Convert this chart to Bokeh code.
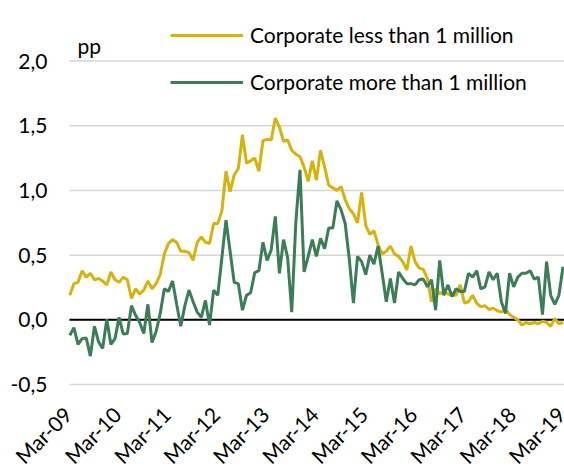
from bokeh.plotting import figure
from bokeh.models import Range1d, Label, Legend, LegendItem
from bokeh.core.properties import value
from bokeh.embed import file_html
from bokeh.resources import INLINE

# ---- data (monthly, Mar-09 .. Mar-19) ----
months = list(range(121))
x_tick_pos = [0, 12, 24, 36, 48, 60, 72, 84, 96, 108, 120]
x_tick_labels = ["Mar-09", "Mar-10", "Mar-11", "Mar-12", "Mar-13", "Mar-14",
                 "Mar-15", "Mar-16", "Mar-17", "Mar-18", "Mar-19"]
y_tick_pos = [-0.5, 0.0, 0.5, 1.0, 1.5, 2.0]
y_tick_labels = ["-0,5", "0,0", "0,5", "1,0", "1,5", "2,0"]

less_1m = [
    0.19, 0.28, 0.29, 0.38, 0.33, 0.36, 0.31, 0.32, 0.30, 0.27,
    0.37, 0.31, 0.29, 0.33, 0.31, 0.165, 0.24, 0.20, 0.23, 0.30,
    0.24, 0.28, 0.35, 0.51, 0.59, 0.62, 0.60, 0.53, 0.53, 0.52,
    0.46, 0.60, 0.64, 0.60, 0.59, 0.745, 0.745, 0.84, 1.15, 0.99,
    1.12, 1.17, 1.43, 1.21, 1.23, 1.25, 1.15, 1.385, 1.395, 1.39,
    1.56, 1.49, 1.38, 1.39, 1.31, 1.28, 1.26, 1.18, 1.07, 1.23,
    1.08, 1.31, 1.18, 1.04, 1.02, 1.00, 1.03, 0.93, 0.86, 0.82,
    0.75, 0.985, 0.73, 0.66, 0.69, 0.58, 0.51, 0.53, 0.57, 0.51,
    0.49, 0.45, 0.385, 0.57, 0.45, 0.40, 0.39, 0.32, 0.14, 0.24,
    0.20, 0.22, 0.20, 0.19, 0.19, 0.27, 0.13, 0.14, 0.19, 0.13,
    0.10, 0.11, 0.08, 0.09, 0.07, 0.06, 0.08, 0.04, 0.02, 0.00,
    -0.04, -0.02, -0.03, -0.02, -0.03, -0.01, -0.02, -0.05, 0.01, -0.03,
    -0.02,
]

more_1m = [
    -0.12, -0.06, -0.19, -0.145, -0.14, -0.28, -0.05, -0.17, -0.22, 0.005,
    -0.19, -0.145, 0.02, -0.11, -0.105, 0.11, 0.035, -0.02, -0.105, 0.12,
    -0.175, -0.09, 0.05, 0.24, 0.22, 0.30, 0.12, -0.05, 0.11, 0.23,
    0.14, 0.06, 0.02, 0.15, -0.04, 0.23, 0.19, 0.48, 0.77, 0.53,
    0.29, 0.28, 0.075, 0.19, 0.21, 0.365, 0.38, 0.60, 0.46, 0.54,
    0.80, 0.36, 0.62, 0.48, 0.06, 0.76, 1.16, 0.37, 0.49, 0.62,
    0.49, 0.63, 0.55, 0.71, 0.71, 0.92, 0.85, 0.745, 0.47, 0.13,
    0.49, 0.45, 0.35, 0.50, 0.43, 0.57, 0.36, 0.14, 0.32, 0.13,
    0.37, 0.32, 0.28, 0.28, 0.27, 0.31, 0.315, 0.255, 0.31, 0.075,
    0.46, 0.19, 0.27, 0.18, 0.24, 0.22, 0.22, 0.36, 0.33, 0.38,
    0.24, 0.255, 0.37, 0.31, 0.36, 0.14, 0.05, 0.36, 0.255, 0.33,
    0.36, 0.36, 0.38, 0.315, 0.33, 0.04, 0.45, 0.19, 0.12, 0.19,
    0.41,
]

series_names = ["Corporate less than 1 million", "Corporate more than 1 million"]
unit_label = "pp"

# ---- styles / geometry ----
FONT = "Lato"
FS = "21px"
YELLOW = "#D6B30A"
GREEN = "#3B7D57"
GRID = "#d6d6d6"
W, H = 564, 472
LEFT = 69                  # px left of the plotting area (y labels live there)
X0, X1 = -0.073, 120.36    # data x at plot-area left / canvas right
UPX = (X1 - X0) / (W - LEFT)   # x data units per pixel
Y_TOP = 2.468              # data y at canvas top
UPY = 1 / 129.4            # y data units per pixel
Y_BOT = Y_TOP - H * UPY

# whole canvas is the frame; axes are drawn by hand so that the rotated
# month labels can sit exactly where the reference has them
p = figure(width=W, height=H, output_backend="svg", toolbar_location=None,
           x_range=Range1d(X0 - LEFT * UPX, X1), y_range=Range1d(Y_BOT, Y_TOP),
           x_axis_type=None, y_axis_type=None,
           min_border_left=0, min_border_right=0, min_border_top=0,
           min_border_bottom=0)
p.outline_line_color = None
p.grid.visible = False
p.background_fill_color = "white"
p.border_fill_color = "white"

# horizontal gridlines (from the plot-area left edge to the right edge)
p.segment(x0=X0, x1=X1, y0=y_tick_pos, y1=y_tick_pos,
          line_color=GRID, line_width=1.5)
# zero line
p.segment(x0=X0, x1=X1, y0=0, y1=0, line_color="black", line_width=2)

# y tick labels
p.text(x=X0, y=y_tick_pos, text=y_tick_labels, x_offset=-22,
       text_align="right", text_baseline="middle",
       text_font=value(FONT), text_font_size=FS, text_color="black")

# rotated x tick labels, ending at their tick
p.text(x=x_tick_pos, y=min(y_tick_pos) - 17 * UPY, text=x_tick_labels,
       angle=0.785398, x_offset=-11, text_align="right", text_baseline="top",
       text_font=value(FONT), text_font_size=FS, text_color="black")

r1 = p.line(months, less_1m, line_color=YELLOW, line_width=3)
r2 = p.line(months, more_1m, line_color=GREEN, line_width=3)

legend = Legend(items=[LegendItem(label=series_names[0], renderers=[r1]),
                       LegendItem(label=series_names[1], renderers=[r2])],
                location=(170, 378), orientation="vertical",
                background_fill_alpha=0, border_line_color=None,
                padding=0, margin=0, spacing=22,
                glyph_width=73, glyph_height=22, label_height=22,
                label_standoff=7,
                label_text_font=FONT, label_text_font_size=FS,
                label_text_color="black")
p.add_layout(legend)

p.add_layout(Label(x=1.87, y=2.12, text=unit_label, text_font=FONT,
                   text_font_size=FS, text_color="black",
                   text_baseline="alphabetic"))

open("out.html", "w").write(file_html(p, INLINE))
